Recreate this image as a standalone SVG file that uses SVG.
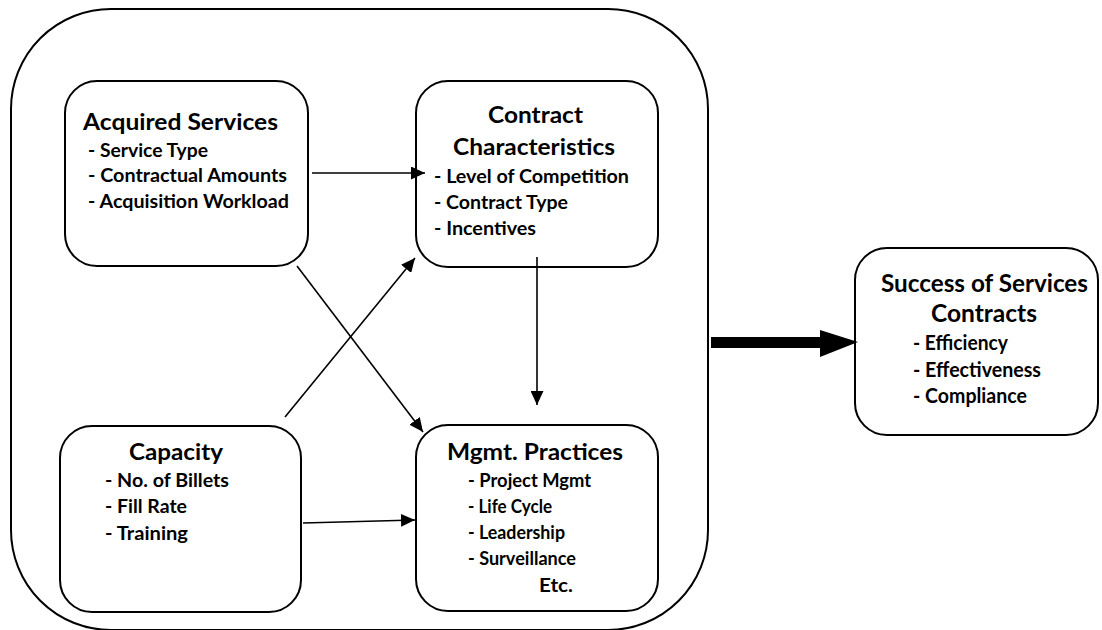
<svg xmlns="http://www.w3.org/2000/svg" width="1102" height="630" viewBox="0 0 1102 630">
<style>
.box{fill:#fff;stroke:#000;stroke-width:2}
.outer{fill:#fff;stroke:#000;stroke-width:2}
text{font-family:Lato,"Open Sans","Liberation Sans",sans-serif;font-weight:bold;fill:#000}
.t{font-size:23px}
.i{font-size:19px}
.ts{font-size:25px}
.is{font-size:20px}
.c line{stroke:#000;stroke-width:1.6}
</style>
<defs>
<marker id="ah" markerUnits="userSpaceOnUse" markerWidth="15" markerHeight="13" refX="14" refY="6.5" orient="auto">
<path d="M0,0 L14,6.5 L0,13 z" fill="#000"/>
</marker>
</defs>
<rect class="outer" x="11" y="9" width="697" height="621" rx="100" ry="100"/>
<g id="acquired">
<rect class="box" x="65" y="81" width="243" height="185" rx="32" ry="32"/>
<text class="t" x="83" y="130" textLength="195" lengthAdjust="spacingAndGlyphs">Acquired Services</text>
<text class="i" x="88" y="157" textLength="120" lengthAdjust="spacingAndGlyphs">- Service Type</text>
<text class="i" x="88" y="182" textLength="199" lengthAdjust="spacingAndGlyphs">- Contractual Amounts</text>
<text class="i" x="88" y="208" textLength="201" lengthAdjust="spacingAndGlyphs">- Acquisition Workload</text>
</g>
<g id="contract">
<rect class="box" x="416" y="81" width="242" height="186" rx="32" ry="32"/>
<text class="t" x="488" y="123" textLength="95" lengthAdjust="spacingAndGlyphs">Contract</text>
<text class="t" x="453" y="155" textLength="162" lengthAdjust="spacingAndGlyphs">Characteristics</text>
<text class="i" x="434" y="183" textLength="195" lengthAdjust="spacingAndGlyphs">- Level of Competition</text>
<text class="i" x="434" y="209" textLength="134" lengthAdjust="spacingAndGlyphs">- Contract Type</text>
<text class="i" x="434" y="235" textLength="102" lengthAdjust="spacingAndGlyphs">- Incentives</text>
</g>
<g id="capacity">
<rect class="box" x="60" y="426" width="241" height="186" rx="32" ry="32"/>
<text class="t" x="129" y="460" textLength="94" lengthAdjust="spacingAndGlyphs">Capacity</text>
<text class="i" x="105" y="487" textLength="124" lengthAdjust="spacingAndGlyphs">- No. of Billets</text>
<text class="i" x="105" y="513" textLength="82" lengthAdjust="spacingAndGlyphs">- Fill Rate</text>
<text class="i" x="105" y="540" textLength="83" lengthAdjust="spacingAndGlyphs">- Training</text>
</g>
<g id="mgmt">
<rect class="box" x="416" y="425" width="242" height="186" rx="32" ry="32"/>
<text class="t" x="447" y="460" textLength="176" lengthAdjust="spacingAndGlyphs">Mgmt. Practices</text>
<text class="i" x="468" y="487" textLength="123" lengthAdjust="spacingAndGlyphs">- Project Mgmt</text>
<text class="i" x="468" y="513" textLength="84" lengthAdjust="spacingAndGlyphs">- Life Cycle</text>
<text class="i" x="468" y="539" textLength="97" lengthAdjust="spacingAndGlyphs">- Leadership</text>
<text class="i" x="468" y="565" textLength="108" lengthAdjust="spacingAndGlyphs">- Surveillance</text>
<text class="i" x="539" y="592" textLength="34" lengthAdjust="spacingAndGlyphs">Etc.</text>
</g>
<g id="success">
<rect class="box" x="855" y="248" width="243" height="187" rx="32" ry="32"/>
<text class="ts" x="881" y="292" textLength="207" lengthAdjust="spacingAndGlyphs">Success of Services</text>
<text class="ts" x="931" y="322" textLength="106" lengthAdjust="spacingAndGlyphs">Contracts</text>
<text class="is" x="913" y="350" textLength="95" lengthAdjust="spacingAndGlyphs">- Efficiency</text>
<text class="is" x="913" y="377" textLength="128" lengthAdjust="spacingAndGlyphs">- Effectiveness</text>
<text class="is" x="913" y="403" textLength="114" lengthAdjust="spacingAndGlyphs">- Compliance</text>
</g>
<g id="connectors" class="c">
<line x1="312" y1="173" x2="425" y2="173" marker-end="url(#ah)"/>
<line x1="297" y1="266" x2="423" y2="432" marker-end="url(#ah)"/>
<line x1="285" y1="417" x2="415" y2="258" marker-end="url(#ah)"/>
<line x1="537" y1="257" x2="537" y2="405" marker-end="url(#ah)"/>
<line x1="303" y1="523" x2="415" y2="520" marker-end="url(#ah)"/>
<polygon points="711,337 820,337 820,330 858,342 820,357 820,348 711,348" fill="#000"/>
</g>
</svg>
